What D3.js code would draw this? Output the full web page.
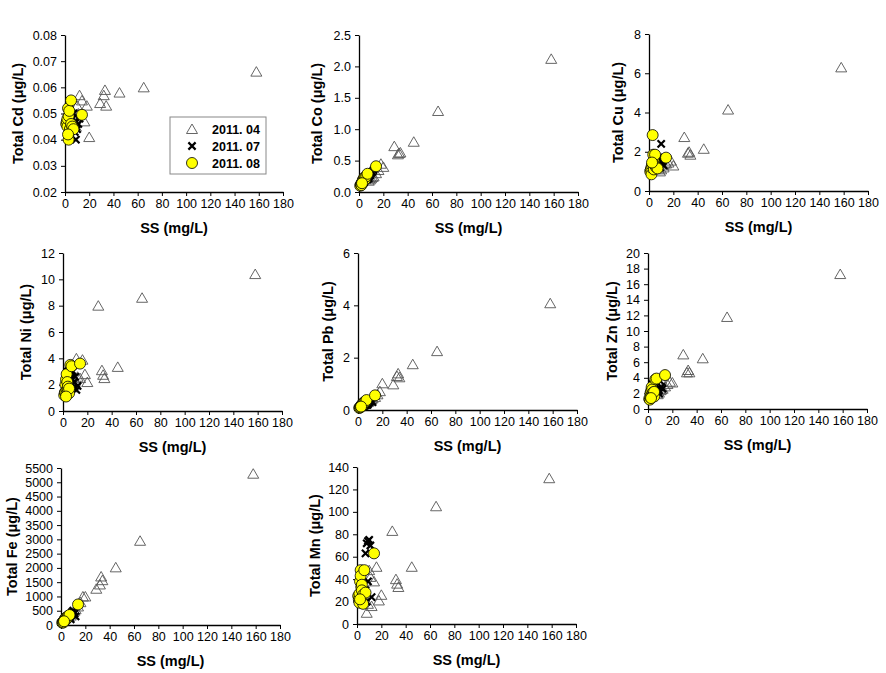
<!DOCTYPE html>
<html>
<head>
<meta charset="utf-8">
<script src="https://cdn.jsdelivr.net/npm/d3@7"></script>
<style>
  html, body { margin: 0; padding: 0; background: #fff; }
  svg { display: block; font-family: Arial, "Liberation Sans", sans-serif; }
</style>
</head>
<body>
<svg id="chart" width="886" height="673"></svg>
<script>
// ---------- data ----------
const seriesNames = ["2011. 04", "2011. 07", "2011. 08"];
const xTicks = [0, 20, 40, 60, 80, 100, 120, 140, 160, 180];

// SS (mg/L) for each sample
const ssApr = [158, 65, 45, 33, 32, 29, 34, 20, 18, 16, 14, 12, 10, 9, 8, 11];
const ssJul = [4, 5, 6, 7, 7, 8, 9, 9, 10, 11, 12, 8];
const ssAug = [1, 1.5, 2, 2, 2.5, 3, 3, 3.5, 4, 4, 5, 5, 6, 7, 14, 2.5];

// Total Cd
const cdApr = [0.066, 0.060, 0.058, 0.059, 0.057, 0.054, 0.053, 0.041, 0.053, 0.047, 0.055, 0.057, 0.053, 0.045, 0.048, 0.050];
const cdJul = [0.051, 0.049, 0.048, 0.050, 0.046, 0.047, 0.040, 0.045, 0.044, 0.046, 0.048, 0.043];
const cdAug = [0.046, 0.047, 0.045, 0.048, 0.052, 0.049, 0.040, 0.051, 0.043, 0.044, 0.055, 0.046, 0.045, 0.044, 0.0495, 0.042];
// Total Co
const coApr = [2.12, 1.29, 0.80, 0.62, 0.60, 0.73, 0.63, 0.40, 0.45, 0.35, 0.30, 0.25, 0.22, 0.20, 0.18, 0.24];
const coJul = [0.15, 0.18, 0.20, 0.22, 0.20, 0.25, 0.28, 0.26, 0.30, 0.32, 0.35, 0.22];
const coAug = [0.10, 0.12, 0.13, 0.11, 0.15, 0.18, 0.16, 0.20, 0.19, 0.22, 0.20, 0.24, 0.25, 0.29, 0.41, 0.14];
// Total Cu
const cuApr = [6.3, 4.15, 2.15, 2.0, 1.95, 2.75, 1.85, 1.3, 1.55, 1.45, 1.4, 1.2, 1.1, 1.0, 1.15, 1.3];
const cuJul = [1.3, 1.4, 1.2, 1.5, 1.3, 1.4, 1.6, 1.2, 2.4, 1.5, 1.3, 1.7];
const cuAug = [1.0, 1.1, 0.85, 1.2, 1.3, 2.85, 1.4, 1.85, 1.5, 1.1, 1.3, 1.85, 1.2, 1.15, 1.7, 1.45];
// Total Ni
const niApr = [10.4, 8.6, 3.35, 2.75, 3.1, 8.0, 2.5, 2.2, 2.8, 3.9, 2.5, 2.6, 2.3, 2.0, 1.8, 4.0];
const niJul = [3.0, 2.9, 2.7, 3.1, 2.5, 2.0, 1.8, 2.2, 2.6, 1.6, 1.9, 3.0];
const niAug = [1.2, 1.4, 2.0, 1.45, 2.4, 2.8, 1.6, 2.2, 1.85, 1.5, 1.35, 1.7, 3.5, 3.4, 3.6, 1.1];
// Total Pb
const pbApr = [4.08, 2.25, 1.75, 1.4, 1.3, 0.98, 1.25, 1.02, 0.72, 0.6, 0.5, 0.45, 0.38, 0.33, 0.3, 0.42];
const pbJul = [0.12, 0.15, 0.18, 0.2, 0.22, 0.25, 0.28, 0.3, 0.32, 0.35, 0.3, 0.2];
const pbAug = [0.08, 0.10, 0.12, 0.10, 0.15, 0.20, 0.18, 0.22, 0.25, 0.20, 0.30, 0.28, 0.32, 0.38, 0.56, 0.13];
// Total Zn
const znApr = [17.3, 11.8, 6.5, 5.0, 4.7, 7.0, 4.7, 3.4, 3.5, 3.2, 2.9, 2.6, 2.4, 2.1, 1.9, 2.5];
const znJul = [3.2, 3.5, 3.8, 3.0, 2.5, 2.2, 2.0, 2.4, 3.6, 2.8, 2.6, 3.9];
const znAug = [1.3, 1.2, 2.0, 1.5, 2.3, 2.8, 1.8, 2.5, 2.1, 1.7, 1.6, 2.2, 3.8, 3.9, 4.35, 1.4];
// Total Fe
const feApr = [5300, 2950, 2020, 1700, 1420, 1270, 1570, 1000, 1000, 800, 650, 550, 450, 380, 330, 500];
const feJul = [150, 200, 250, 300, 250, 350, 400, 450, 500, 400, 300, 200];
const feAug = [80, 100, 120, 90, 150, 200, 160, 220, 250, 200, 280, 240, 320, 350, 720, 130];
// Total Mn
const mnApr = [130, 105, 51, 36, 40, 83, 33, 26, 21, 51, 38, 16, 48, 18, 10, 42];
const mnJul = [22, 28, 35, 63, 30, 72, 74, 38, 75, 70, 24, 20];
const mnAug = [25, 22, 27, 19, 38, 48, 43, 33, 35, 30, 18, 26, 48, 28, 63, 22];

// y tick labels per panel
const cdTicks = [0.02, 0.03, 0.04, 0.05, 0.06, 0.07, 0.08];
const coTicks = [0.0, 0.5, 1.0, 1.5, 2.0, 2.5];
const cuTicks = [0, 2, 4, 6, 8];
const niTicks = [0, 2, 4, 6, 8, 10, 12];
const pbTicks = [0, 2, 4, 6];
const znTicks = [0, 2, 4, 6, 8, 10, 12, 14, 16, 18, 20];
const feTicks = [0, 500, 1000, 1500, 2000, 2500, 3000, 3500, 4000, 4500, 5000, 5500];
const mnTicks = [0, 20, 40, 60, 80, 100, 120, 140];

// ---------- panels (layout kept separate from data) ----------
const panels = [
  {metal: "Cd", vals: [cdApr, cdJul, cdAug], ticks: cdTicks, fmt: ".2f", box: [65, 283, 35, 192], tx: 18, legend: true},
  {metal: "Co", vals: [coApr, coJul, coAug], ticks: coTicks, fmt: ".1f", box: [359, 578, 35, 192], tx: 317},
  {metal: "Cu", vals: [cuApr, cuJul, cuAug], ticks: cuTicks, fmt: "d", box: [649, 868, 34, 191], tx: 618},
  {metal: "Ni", vals: [niApr, niJul, niAug], ticks: niTicks, fmt: "d", box: [63, 282, 253, 411], tx: 26},
  {metal: "Pb", vals: [pbApr, pbJul, pbAug], ticks: pbTicks, fmt: "d", box: [358, 577, 253, 410], tx: 328},
  {metal: "Zn", vals: [znApr, znJul, znAug], ticks: znTicks, fmt: "d", box: [648, 867, 253, 409], tx: 612},
  {metal: "Fe", vals: [feApr, feJul, feAug], ticks: feTicks, fmt: "d", box: [61, 280, 468, 625], tx: 12},
  {metal: "Mn", vals: [mnApr, mnJul, mnAug], ticks: mnTicks, fmt: "d", box: [357, 576, 467, 624], tx: 315}
];
const ssSets = [ssApr, ssJul, ssAug];

const svg = d3.select("#chart");
const triPath = "M0,-5 L5.5,4.5 L-5.5,4.5 Z";
const YELLOW = "#ffff00";

function drawMarker(g, type, x, y) {
  if (type === 0) {
    g.append("path").attr("d", triPath).attr("transform", `translate(${x},${y})`)
      .attr("fill", "none").attr("stroke", "#555").attr("stroke-width", 0.9);
  } else if (type === 1) {
    const s = 3.6;
    g.append("path").attr("d", `M${-s},${-s}L${s},${s}M${-s},${s}L${s},${-s}`)
      .attr("transform", `translate(${x},${y})`)
      .attr("stroke", "#000").attr("stroke-width", 2.2).attr("fill", "none");
  } else {
    g.append("circle").attr("cx", x).attr("cy", y).attr("r", 5.5)
      .attr("fill", YELLOW).attr("stroke", "#000").attr("stroke-width", 0.8);
  }
}

panels.forEach(p => {
  const [x0, x1, yT, yB] = p.box;
  const tmin = d3.min(p.ticks), tmax = d3.max(p.ticks);
  const x = d3.scaleLinear().domain([0, 180]).range([x0, x1]);
  const y = d3.scaleLinear().domain([tmin, tmax]).range([yB, yT]);
  const g = svg.append("g");

  // axes
  const ax = g.append("g").attr("transform", `translate(0,${yB})`)
    .call(d3.axisBottom(x).tickValues(xTicks).tickSize(4).tickSizeOuter(0).tickPadding(3));
  const ay = g.append("g").attr("transform", `translate(${x0},0)`)
    .call(d3.axisLeft(y).tickValues(p.ticks).tickFormat(d3.format(p.fmt)).tickSize(4).tickSizeOuter(0).tickPadding(4));
  [ax, ay].forEach(a => {
    a.select(".domain").attr("stroke", "#000").attr("stroke-width", 1.3);
    a.selectAll(".tick line").attr("stroke", "#000").attr("stroke-width", 1);
    a.selectAll(".tick text").attr("fill", "#000")
      .style("font-size", "12.5px").style("font-family", "Arial, 'Liberation Sans', sans-serif");
  });

  // titles
  g.append("text").attr("x", (x0 + x1) / 2).attr("y", yB + 41)
    .attr("text-anchor", "middle").attr("font-weight", "bold").attr("font-size", 14.5)
    .text("SS (mg/L)");
  g.append("text").attr("transform", `translate(${p.tx + 5},${(yT + yB) / 2}) rotate(-90)`)
    .attr("text-anchor", "middle").attr("font-weight", "bold").attr("font-size", 14.5)
    .text(`Total ${p.metal} (\u03bcg/L)`);

  // markers
  const mg = g.append("g");
  p.vals.forEach((vals, si) => {
    vals.forEach((v, i) => drawMarker(mg, si, x(ssSets[si][i]), y(v)));
  });

  if (p.legend) {
    const lg = g.append("g");
    lg.append("rect").attr("x", 170).attr("y", 117).attr("width", 96).attr("height", 57)
      .attr("fill", "#fff").attr("stroke", "#888").attr("stroke-width", 1);
    seriesNames.forEach((name, i) => {
      const cy = 129 + i * 17;
      drawMarker(lg, i, 192, cy);
      lg.append("text").attr("x", 212).attr("y", cy + 4.5)
        .attr("font-weight", "bold").attr("font-size", 12.5).text(name);
    });
  }
});
</script>
</body>
</html>
